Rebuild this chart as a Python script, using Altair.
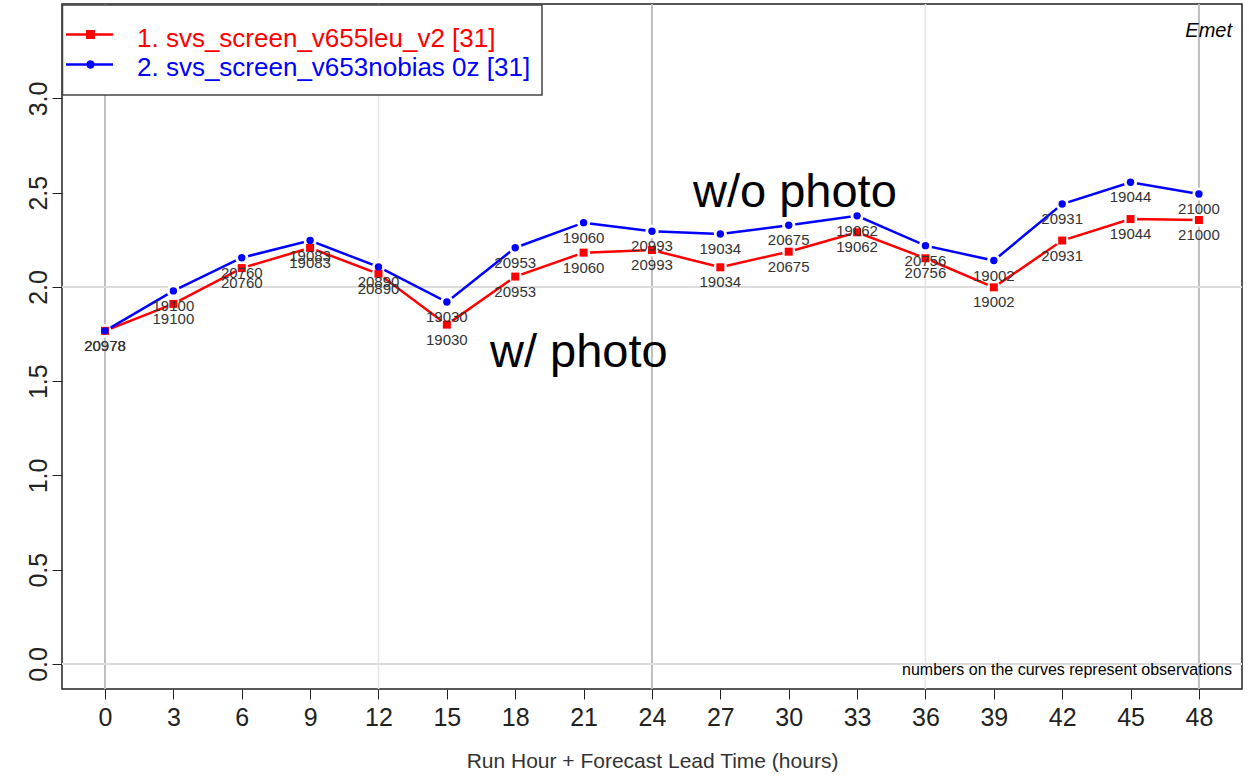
import altair as alt
import pandas as pd

# Forecast hours on the x axis
hours = [0, 3, 6, 9, 12, 15, 18, 21, 24, 27, 30, 33, 36, 39, 42, 45, 48]

# Scores for each experiment
v655leu = [1.767, 1.910, 2.100, 2.207, 2.070, 1.800, 2.055, 2.182, 2.196,
           2.104, 2.187, 2.290, 2.152, 1.998, 2.246, 2.360, 2.355]
v653nobias = [1.767, 1.979, 2.155, 2.246, 2.106, 1.920, 2.208, 2.341, 2.295,
              2.281, 2.327, 2.377, 2.219, 2.140, 2.440, 2.555, 2.493]

# Number of observations behind each point
observations = [20978, 19100, 20760, 19083, 20890, 19030, 20953, 19060, 20993,
                19034, 20675, 19062, 20756, 19002, 20931, 19044, 21000]

legend_labels = ["1. svs_screen_v655leu_v2 [31]", "2. svs_screen_v653nobias 0z [31]"]
y_ticks = [0.0, 0.5, 1.0, 1.5, 2.0, 2.5, 3.0]
major_grid_hours = [0, 24, 48]
minor_grid_hours = [12, 36]
grid_values = [0.0, 2.0]

FONT = "Liberation Sans"
RED = "#ff0000"
BLUE = "#0000ff"
W, H = 1180, 685

red_df = pd.DataFrame({"hour": hours, "value": v655leu, "obs": observations})
blue_df = pd.DataFrame({"hour": hours, "value": v653nobias, "obs": observations})

x_enc = alt.X(
    "hour:Q",
    scale=alt.Scale(domain=[-1.887, 49.89], nice=False, zero=False),
    axis=alt.Axis(
        values=hours, format="d", grid=False, domain=False,
        tickSize=10, tickColor="#222", tickWidth=1,
        labelFontSize=25, labelFont=FONT, labelColor="#222", labelPadding=6,
        labelFlush=False,
        title="Run Hour + Forecast Lead Time (hours)",
        titleFont=FONT, titleFontSize=21, titleFontWeight="normal", titleColor="#333",
        titleBaseline="alphabetic", titleY=78,
    ),
)
y_enc = alt.Y(
    "value:Q",
    scale=alt.Scale(domain=[-0.133, 3.501], nice=False, zero=False),
    axis=alt.Axis(
        values=y_ticks, format=".1f", grid=False, domain=False,
        tickSize=10, tickColor="#222", tickWidth=1,
        labelFontSize=25, labelFont=FONT, labelColor="#222",
        labelAngle=270, labelAlign="center", labelBaseline="alphabetic",
        labelPadding=6, labelFlush=False, title=None,
    ),
)

# Grid lines
major_grid = alt.Chart(pd.DataFrame({"hour": major_grid_hours})).mark_rule(
    color="#bebebe", strokeWidth=2).encode(x=x_enc)
minor_grid = alt.Chart(pd.DataFrame({"hour": minor_grid_hours})).mark_rule(
    color="#e6e6e6", strokeWidth=1.6).encode(x=x_enc)
h_grid = alt.Chart(pd.DataFrame({"value": grid_values})).mark_rule(
    color="#dcdcdc", strokeWidth=2).encode(y=y_enc)


def series_layers(df, color, shape, size):
    base = alt.Chart(df).encode(x=x_enc, y=y_enc)
    line = base.mark_line(color=color, strokeWidth=2.5)
    halo = base.mark_point(filled=True, shape="circle", color="white",
                           size=175, opacity=1, strokeWidth=0)
    pts = base.mark_point(filled=True, shape=shape, color=color, size=size,
                          opacity=1, strokeWidth=0)
    return line, halo, pts


red_line, red_halo, red_pts = series_layers(red_df, RED, "square", 64)
blue_line, blue_halo, blue_pts = series_layers(blue_df, BLUE, "circle", 55)


def obs_labels(df):
    return alt.Chart(df).mark_text(
        font=FONT, fontSize=15, color="#333", dy=15, baseline="middle"
    ).encode(x=x_enc, y=y_enc, text="obs:Q")


red_text = obs_labels(red_df)
blue_text = obs_labels(blue_df)

# Annotations
annot = pd.DataFrame({"label": ["w/o photo", "w/ photo"]})
wo_photo = alt.Chart(annot.iloc[[0]]).mark_text(
    font=FONT, fontSize=47, color="black", align="left", baseline="alphabetic"
).encode(x=alt.value(631), y=alt.value(203), text="label:N")
w_photo = alt.Chart(annot.iloc[[1]]).mark_text(
    font=FONT, fontSize=47, color="black", align="left", baseline="alphabetic"
).encode(x=alt.value(428), y=alt.value(363), text="label:N")

note_df = pd.DataFrame({"label": ["numbers on the curves represent observations"]})
note = alt.Chart(note_df).mark_text(
    font=FONT, fontSize=16, color="black", align="right", baseline="alphabetic"
).encode(x=alt.value(1170), y=alt.value(671), text="label:N")

emet_df = pd.DataFrame({"label": ["Emet"]})
emet = alt.Chart(emet_df).mark_text(
    font=FONT, fontSize=20, fontStyle="italic", color="black",
    align="right", baseline="alphabetic"
).encode(x=alt.value(1170), y=alt.value(33), text="label:N")

# Legend box
leg_df = pd.DataFrame({"label": legend_labels})
leg_box = alt.Chart(pd.DataFrame({"k": [0]})).mark_rect(
    fill="white", stroke="#444", strokeWidth=1.5
).encode(x=alt.value(0.5), x2=alt.value(480), y=alt.value(1), y2=alt.value(91))


def legend_entry(i, color, shape, size, ly, ty):
    d = leg_df.iloc[[i]]
    ln = alt.Chart(d).mark_rule(color=color, strokeWidth=2.5).encode(
        x=alt.value(4), x2=alt.value(51), y=alt.value(ly))
    mk = alt.Chart(d).mark_point(filled=True, shape=shape, color=color,
                                 size=size, opacity=1, strokeWidth=0).encode(
        x=alt.value(28.5), y=alt.value(ly))
    tx = alt.Chart(d).mark_text(font=FONT, fontSize=26, color=color,
                                align="left", baseline="alphabetic").encode(
        x=alt.value(75), y=alt.value(ty), text="label:N")
    return [ln, mk, tx]


legend_layers = (legend_entry(0, RED, "square", 80, 30.5, 42.5)
                 + legend_entry(1, BLUE, "circle", 70, 60.5, 72))

chart = alt.layer(
    minor_grid, major_grid, h_grid,
    red_line, red_halo, blue_line, blue_halo, red_pts, blue_pts,
    red_text, blue_text,
    wo_photo, w_photo, note, emet,
    leg_box, *legend_layers,
).properties(
    width=W, height=H,
    autosize=alt.AutoSizeParams(type="none"),
    padding={"left": 62, "top": 4, "right": 7, "bottom": 90},
    background="white",
).configure_view(stroke="#222", strokeWidth=1.5)

chart.save("out.html", embed_options={"renderer": "svg", "actions": False})
